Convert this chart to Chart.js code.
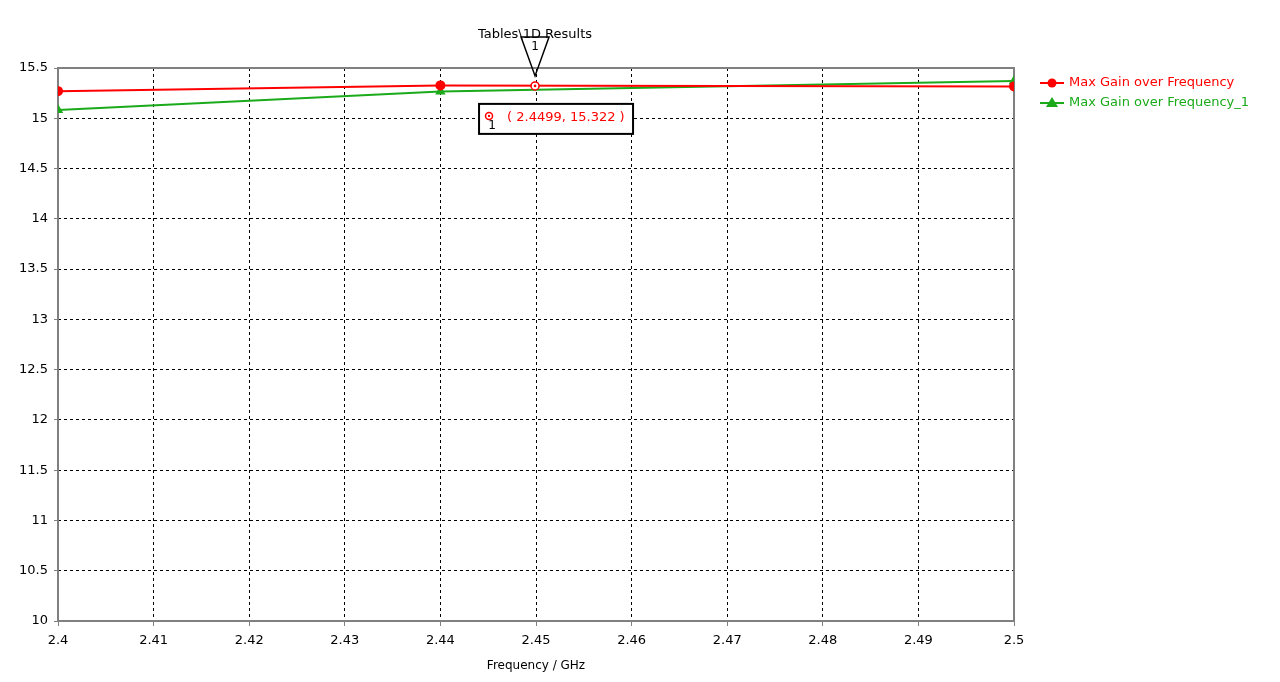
<!DOCTYPE html>
<html>
<head>
<meta charset="utf-8">
<title>Tables\1D Results</title>
<script src="https://cdn.jsdelivr.net/npm/chart.js@4.4.0/dist/chart.umd.min.js"></script>
<style>
  html, body { margin: 0; padding: 0; background: #fff; }
  canvas { display: block; }
</style>
</head>
<body>
<canvas id="gainChart" width="1280" height="682"></canvas>
<script>
// ================= DATA =================
const freqs = [2.4, 2.44, 2.5];
const gainRed = [15.27, 15.327, 15.317];
const gainGreen = [15.082, 15.266, 15.371];
const seriesNames = ["Max Gain over Frequency", "Max Gain over Frequency_1"];
const xTicks = [2.4, 2.41, 2.42, 2.43, 2.44, 2.45, 2.46, 2.47, 2.48, 2.49, 2.5];
const yTicks = [10, 10.5, 11, 11.5, 12, 12.5, 13, 13.5, 14, 14.5, 15, 15.5];
const markerFreq = 2.4499;
const markerGain = 15.322;

const FONT = "DejaVu Sans";
const RED = "#ff0000";
const GREEN = "#1aaa1a";

// ================= PLUGIN: frame, marker, legend =================
const cstDecor = {
    id: "cstDecor",
    beforeDatasetsDraw(chart) {
        const { ctx, chartArea: a } = chart;
        ctx.save();
        ctx.strokeStyle = "#808080";
        ctx.lineWidth = 2;
        ctx.strokeRect(a.left, a.top, a.right - a.left, a.bottom - a.top);
        ctx.restore();
    },
    afterDatasetsDraw(chart) {
        const { ctx } = chart;
        const xs = chart.scales.x, ys = chart.scales.y;
        const px = xs.getPixelForValue(markerFreq);
        const py = ys.getPixelForValue(markerGain);

        ctx.save();
        // marker ring on the curve
        ctx.fillStyle = "#fff";
        ctx.strokeStyle = RED;
        ctx.lineWidth = 1.5;
        ctx.beginPath(); ctx.arc(px, py, 4, 0, Math.PI * 2); ctx.fill(); ctx.stroke();
        ctx.fillStyle = RED;
        ctx.beginPath(); ctx.arc(px, py, 1.3, 0, Math.PI * 2); ctx.fill();

        // triangle flag above
        ctx.strokeStyle = "#000";
        ctx.lineWidth = 1.5;
        ctx.beginPath();
        ctx.moveTo(px - 14, py - 49);
        ctx.lineTo(px + 14, py - 49);
        ctx.lineTo(px, py - 10);
        ctx.closePath();
        ctx.stroke();
        ctx.fillStyle = "#000";
        ctx.font = "12px " + FONT;
        ctx.textAlign = "center";
        ctx.textBaseline = "middle";
        ctx.fillText("1", px, py - 39);

        // value box
        const bx = px - 56, by = py + 18, bw = 154, bh = 30;
        ctx.fillStyle = "#fff";
        ctx.fillRect(bx, by, bw, bh);
        ctx.lineWidth = 2;
        ctx.strokeRect(bx, by, bw, bh);
        ctx.strokeStyle = RED;
        ctx.lineWidth = 1.5;
        ctx.beginPath(); ctx.arc(bx + 10, by + 12, 3.5, 0, Math.PI * 2); ctx.stroke();
        ctx.fillStyle = RED;
        ctx.beginPath(); ctx.arc(bx + 10, by + 12, 1.2, 0, Math.PI * 2); ctx.fill();
        ctx.fillStyle = "#000";
        ctx.font = "12px " + FONT;
        ctx.fillText("1", bx + 13, by + 22);
        ctx.fillStyle = RED;
        ctx.font = "13px " + FONT;
        ctx.textAlign = "left";
        ctx.fillText("( " + markerFreq + ", " + markerGain + " )", bx + 28, by + 14);

        // legend
        ctx.font = "13px " + FONT;
        ctx.textBaseline = "middle";
        chart.data.datasets.forEach((ds, i) => {
            const ly = 83 + i * 20;
            ctx.strokeStyle = ds.borderColor;
            ctx.lineWidth = 2;
            ctx.beginPath(); ctx.moveTo(1040, ly); ctx.lineTo(1064, ly); ctx.stroke();
            ctx.fillStyle = ds.borderColor;
            ctx.beginPath();
            if (ds.pointStyle === "triangle") {
                ctx.moveTo(1052, ly - 6); ctx.lineTo(1058, ly + 4); ctx.lineTo(1046, ly + 4);
            } else {
                ctx.arc(1052, ly, 4.5, 0, Math.PI * 2);
            }
            ctx.closePath(); ctx.fill();
            ctx.fillText(ds.label, 1069, ly);
        });

        // top title
        ctx.fillStyle = "#000";
        ctx.textAlign = "center";
        ctx.font = "13px " + FONT;
        ctx.fillText("Tables\\1D Results", 535, 35);
        ctx.restore();
    }
};

// ================= CHART =================
new Chart(document.getElementById("gainChart"), {
    type: "line",
    data: {
        datasets: [
            {
                label: seriesNames[0],
                data: freqs.map((f, i) => ({ x: f, y: gainRed[i] })),
                borderColor: RED,
                backgroundColor: RED,
                borderWidth: 2,
                pointStyle: "circle",
                pointRadius: 5,
                pointBorderWidth: 0,
                tension: 0
            },
            {
                label: seriesNames[1],
                data: freqs.map((f, i) => ({ x: f, y: gainGreen[i] })),
                borderColor: GREEN,
                backgroundColor: GREEN,
                borderWidth: 2,
                pointStyle: "triangle",
                pointRadius: 6,
                pointBorderWidth: 0,
                tension: 0
            }
        ]
    },
    options: {
        responsive: false,
        animation: false,
        events: [],
        layout: { padding: { top: 68, right: 266, left: 0, bottom: 0 } },
        plugins: {
            legend: { display: false },
            tooltip: { enabled: false }
        },
        scales: {
            x: {
                type: "linear",
                min: 2.4,
                max: 2.5,
                afterFit: s => { s.height = 61; },
                afterBuildTicks: s => { s.ticks = xTicks.map(v => ({ value: v })); },
                grid: { color: "#000", lineWidth: 1, tickLength: 5, tickColor: "#808080", tickBorderDash: [] },
                border: { display: false, dash: [3, 3] },
                ticks: {
                    color: "#000",
                    padding: 7,
                    maxRotation: 0,
                    font: { family: FONT, size: 13 },
                    callback: v => String(Number(v.toFixed(2)))
                },
                title: {
                    display: true,
                    text: "Frequency / GHz",
                    color: "#000",
                    font: { family: FONT, size: 12 },
                    padding: { top: 0, bottom: 9 }
                }
            },
            y: {
                type: "linear",
                min: 10,
                max: 15.5,
                afterFit: s => { s.width = 58; },
                afterBuildTicks: s => { s.ticks = yTicks.map(v => ({ value: v })); },
                grid: { color: "#000", lineWidth: 1, tickLength: 4, tickColor: "#808080", tickBorderDash: [] },
                border: { display: false, dash: [3, 3] },
                ticks: {
                    color: "#000",
                    padding: 6,
                    font: { family: FONT, size: 13 },
                    callback: v => String(v)
                }
            }
        }
    },
    plugins: [cstDecor]
});
</script>
</body>
</html>
